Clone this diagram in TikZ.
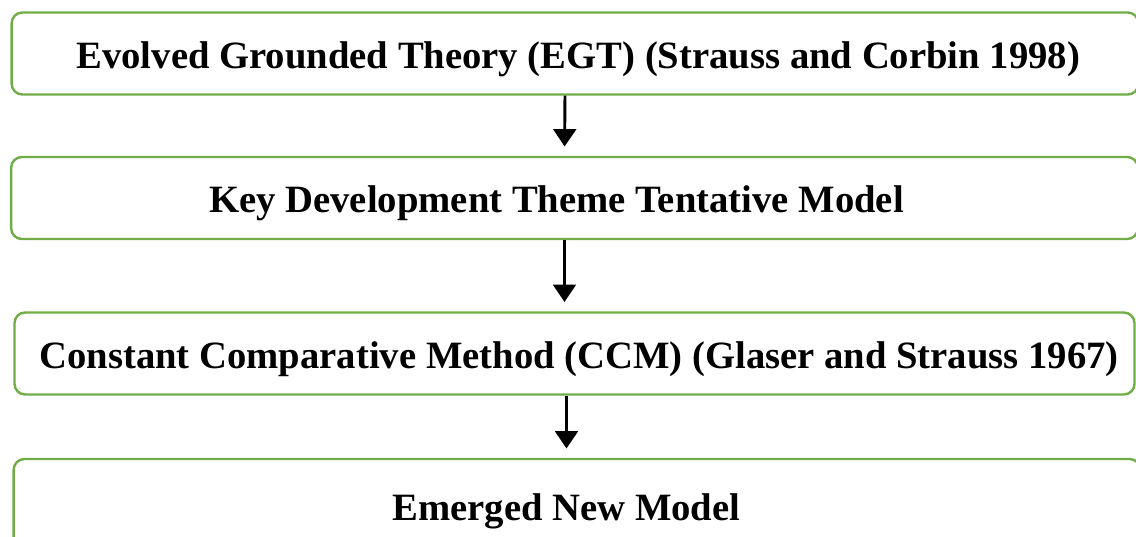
\documentclass[tikz,border=0pt]{standalone}
\usepackage{fontspec}
\setmainfont{Liberation Serif}
\usetikzlibrary{positioning, arrows.meta}

\definecolor{boxgreen}{RGB}{112,173,71}

\begin{document}
\begin{tikzpicture}[x=0.75pt, y=-0.75pt,
	stage/.style={draw=boxgreen, line width=1.8pt, rectangle, rounded corners=8pt, fill=white, minimum width=845pt, minimum height=61.5pt, text height=26pt, text depth=4pt, font=\fontsize{29}{34}\selectfont\bfseries},
	nudge/.style={execute at begin node=\hspace*{#1}},
	flow/.style={draw=black, line width=2.2pt, -{Triangle[length=13pt, width=17pt]}, shorten >=7pt}]
		\useasboundingbox (0,0) rectangle (1136,536);
		\clip (0,0) rectangle (1136,536);
		%diagram
		\node[stage, nudge=5pt] (egt) at (575,53.5) {Evolved Grounded Theory (EGT) (Strauss and Corbin 1998)};
		\node[stage, nudge=-27pt] (key) at (574.5,198) {Key Development Theme Tentative Model};
		\node[stage, nudge=7pt, minimum width=840pt] (ccm) at (574.5,353.5) {Constant Comparative Method (CCM) (Glaser and Strauss 1967)};
		\node[stage, nudge=-16pt, minimum height=70.5pt] (emg) at (577,506) {Emerged New Model};
		%arrows
		\draw[flow] ([xshift=-7.5pt]egt.south) -- ([xshift=-7.5pt]key.north);
		\draw[flow] ([xshift=-7.5pt]key.south) -- ([xshift=-7.5pt]ccm.north);
		\draw[flow] ([xshift=-6pt]ccm.south) -- ([xshift=-6pt]ccm.south |- emg.north);
\end{tikzpicture}
\end{document}
